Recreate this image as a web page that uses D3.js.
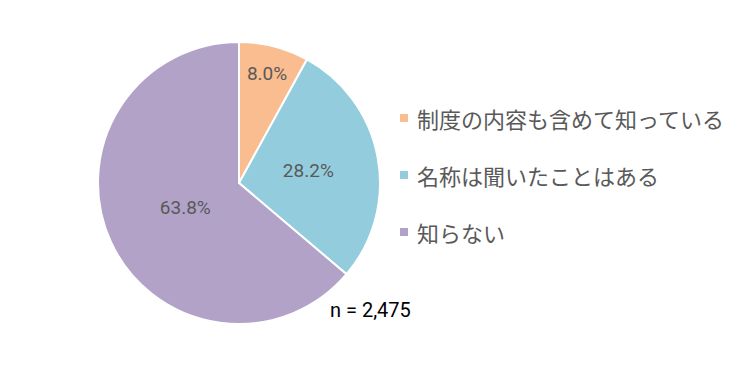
<!DOCTYPE html>
<html>
<head>
<meta charset="utf-8">
<script src="https://cdn.jsdelivr.net/npm/d3@7"></script>
<style>
body { margin: 0; background: #fff; }
text { font-family: Roboto, "Noto Sans CJK JP", sans-serif; }
</style>
</head>
<body>
<div id="chart"></div>
<script>
var categories = ['制度の内容も含めて知っている', '名称は聞いたことはある', '知らない'];
var values = [8.0, 28.2, 63.8];
var colors = ['#F9BD8F', '#93CDDD', '#B2A2C8'];
var sampleLabel = 'n = 2,475';

var width = 740, height = 366;
var svg = d3.select('#chart').append('svg')
	.attr('width', width).attr('height', height);

var cx = 239, cy = 183, r = 141;
// label distance from centre, as fraction of radius (best-fit style)
var labelPos = [0.8, 0.5, 0.42];

var pie = d3.pie().sort(null).value(function(d) { return d; });
var arcs = pie(values);
var arc = d3.arc().innerRadius(0).outerRadius(r);

var g = svg.append('g').attr('transform', 'translate(' + cx + ',' + cy + ')');

g.selectAll('path')
	.data(arcs)
	.enter()
	.append('path')
	.attr('d', arc)
	.attr('fill', function(d, i) { return colors[i]; })
	.attr('stroke', '#fff')
	.attr('stroke-width', 2);

g.selectAll('text.pct')
	.data(arcs)
	.enter()
	.append('text')
	.attr('class', 'pct')
	.attr('text-anchor', 'middle')
	.attr('dominant-baseline', 'central')
	.attr('transform', function(d, i) {
		var a = d3.arc().innerRadius(r * labelPos[i]).outerRadius(r * labelPos[i]);
		return 'translate(' + a.centroid(d) + ')';
	})
	.style('font-size', '19px')
	.style('fill', '#595959')
	.text(function(d) { return d.data.toFixed(1) + '%'; });

// legend
var legend = svg.append('g').attr('transform', 'translate(400,118)');
var ly = d3.scalePoint().domain(categories).range([0, 114]);

legend.selectAll('rect')
	.data(categories)
	.enter()
	.append('rect')
	.attr('x', 0)
	.attr('y', function(d) { return ly(d) - 4; })
	.attr('width', 8)
	.attr('height', 8)
	.attr('fill', function(d, i) { return colors[i]; });

legend.selectAll('text')
	.data(categories)
	.enter()
	.append('text')
	.attr('x', 17)
	.attr('y', function(d) { return ly(d); })
	.attr('dominant-baseline', 'central')
	.style('font-family', '"Noto Sans CJK JP", sans-serif')
	.style('font-size', '22px')
	.style('fill', '#595959')
	.text(function(d) { return d; });

svg.append('text')
	.attr('x', 330)
	.attr('y', 310)
	.attr('dominant-baseline', 'central')
	.style('font-size', '20px')
	.style('fill', '#000')
	.text(sampleLabel);
</script>
</body>
</html>
